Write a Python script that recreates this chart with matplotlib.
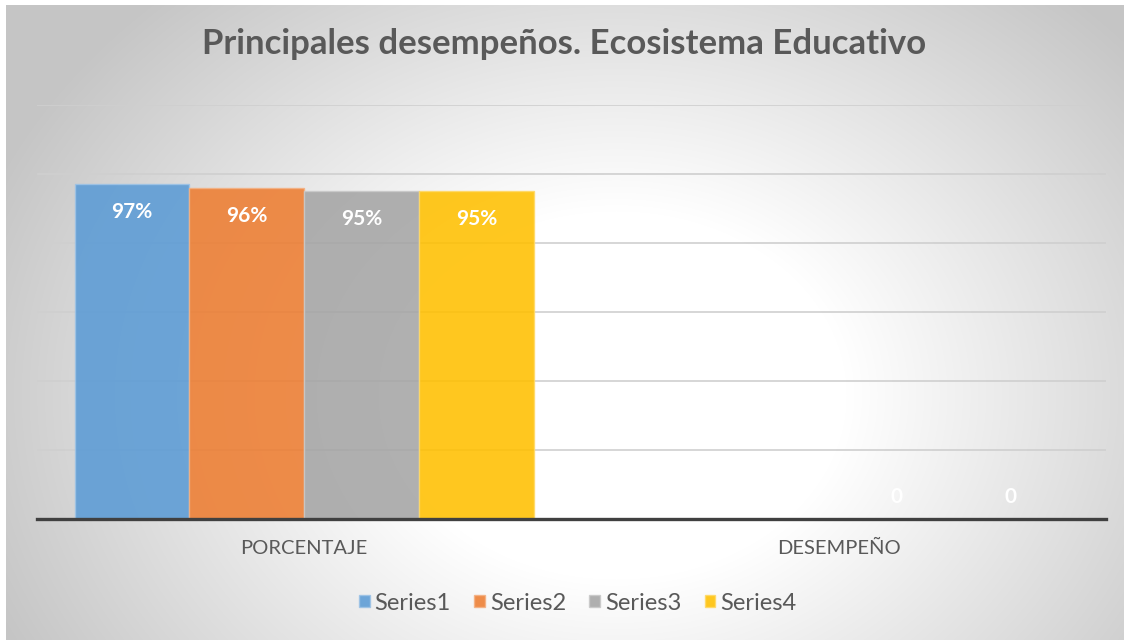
import matplotlib
matplotlib.use("Agg")
import matplotlib.pyplot as plt
import numpy as np

categories = ["PORCENTAJE", "DESEMPEÑO"]
series_names = ["Series1", "Series2", "Series3", "Series4"]
series_values = [
    [0.97, 0.0],
    [0.96, 0.0],
    [0.95, 0.0],
    [0.95, 0.0],
]
value_labels = [
    ["97%", "0"],
    ["96%", "0"],
    ["95%", "0"],
    ["95%", "0"],
]
colors = ["#5B9BD5", "#ED7D31", "#A5A5A5", "#FFC000"]
edge_colors = ["#9DC3E6", "#F4B183", "#C9C9C9", "#FFD966"]

plt.rcParams["font.family"] = ["Lato", "DejaVu Sans"]
text_color = "#595959"

fig = plt.figure(figsize=(11.24, 6.4), dpi=100)
fig.patch.set_facecolor("white")

# radial gradient background (white centre, grey edges)
bg = fig.add_axes([6 / 1124, 0, 1 - 6 / 1124, 1 - 5 / 640], zorder=-5)
W, H = 1118, 635
yy, xx = np.mgrid[0:H, 0:W]
cx, cy = 610, 390
r = np.sqrt((xx - cx) ** 2 + ((yy - cy) / 0.8) ** 2)
t = np.clip((r - 230) / 450, 0, 1)
val = 255 - (255 - 197) * t
img = np.dstack([val, val, val]) / 255
bg.imshow(img, aspect="auto", interpolation="bilinear")
bg.axis("off")

ax = fig.add_axes([37 / 1124, 1 - 519 / 640, (1106 - 37) / 1124, (519 - 105) / 640])
ax.set_facecolor("none")

x = np.arange(len(categories))
w = 0.2147
for i, (name, vals) in enumerate(zip(series_names, series_values)):
    pos = x + (i - 1.5) * w
    bars = ax.bar(pos, vals, width=w, color=colors[i], alpha=0.88,
                  edgecolor=edge_colors[i], linewidth=1, label=name, zorder=3)
    for b, v, lab in zip(bars, vals, value_labels[i]):
        off = -20 if v > 0 else 16
        ax.annotate(lab, (b.get_x() + b.get_width() / 2, v), xytext=(0, off),
                    textcoords="offset points", ha="center", va="center",
                    color="white", fontsize=15, fontweight="bold", zorder=5)

ax.set_xlim(-0.5, 1.5)
ax.set_ylim(0, 1.2)
ax.set_yticks(np.arange(0.2, 1.21, 0.2))
ax.yaxis.grid(True, color="#cfcfcf", linewidth=1.2, zorder=0)
ax.tick_params(axis="y", left=False, labelleft=False)
ax.set_xticks(x)
ax.set_xticklabels(categories, fontsize=14.5, color=text_color)
ax.tick_params(axis="x", length=0, pad=15)
for s in ["top", "right", "left"]:
    ax.spines[s].set_visible(False)
ax.spines["bottom"].set_color("#404040")
ax.spines["bottom"].set_linewidth(2.4)
ax.spines["bottom"].set_zorder(6)

fig.text(0.502, 1 - 44 / 640, "Principales desempeños. Ecosistema Educativo",
         ha="center", va="center", fontsize=25, fontweight="bold", color=text_color)

leg = fig.legend(loc="center", bbox_to_anchor=(0.514, 1 - 603 / 640), ncol=4,
                 frameon=False, fontsize=17, handlelength=0.45, handleheight=0.45,
                 handletextpad=0.2, columnspacing=1.0)
for t in leg.get_texts():
    t.set_color(text_color)

fig.savefig("out.png", dpi=100)
